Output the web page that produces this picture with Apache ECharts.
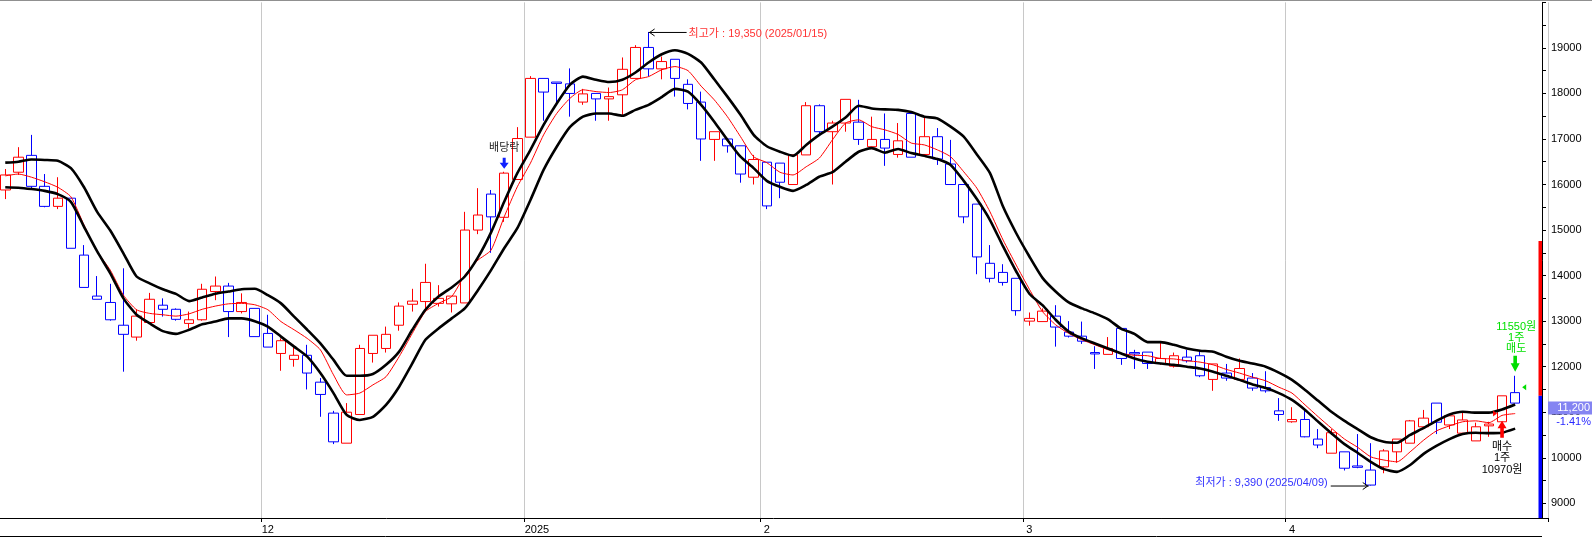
<!DOCTYPE html>
<html>
<head>
<meta charset="utf-8">
<script src="https://cdn.jsdelivr.net/npm/echarts@6.0.0/dist/echarts.min.js"></script>
<style>
html,body{margin:0;padding:0;background:#fff;}
#main{width:1592px;height:537px;}
</style>
</head>
<body>
<div id="main"></div>
<script>
// ---- data ----
const dates = [
'2024-11-04','2024-11-05','2024-11-06','2024-11-07','2024-11-08','2024-11-11','2024-11-12','2024-11-13','2024-11-14','2024-11-15',
'2024-11-18','2024-11-19','2024-11-20','2024-11-21','2024-11-22','2024-11-25','2024-11-26','2024-11-27','2024-11-28','2024-11-29',
'2024-12-02','2024-12-03','2024-12-04','2024-12-05','2024-12-06','2024-12-09','2024-12-10','2024-12-11','2024-12-12','2024-12-13',
'2024-12-16','2024-12-17','2024-12-18','2024-12-19','2024-12-20','2024-12-23','2024-12-24','2024-12-26','2024-12-27','2024-12-30',
'2025-01-02','2025-01-03','2025-01-06','2025-01-07','2025-01-08','2025-01-09','2025-01-10','2025-01-13','2025-01-14','2025-01-15',
'2025-01-16','2025-01-17','2025-01-20','2025-01-21','2025-01-22','2025-01-23','2025-01-24','2025-01-31',
'2025-02-03','2025-02-04','2025-02-05','2025-02-06','2025-02-07','2025-02-10','2025-02-11','2025-02-12','2025-02-13','2025-02-14',
'2025-02-17','2025-02-18','2025-02-19','2025-02-20','2025-02-21','2025-02-24','2025-02-25','2025-02-26','2025-02-27','2025-02-28',
'2025-03-04','2025-03-05','2025-03-06','2025-03-07','2025-03-10','2025-03-11','2025-03-12','2025-03-13','2025-03-14','2025-03-17',
'2025-03-18','2025-03-19','2025-03-20','2025-03-21','2025-03-24','2025-03-25','2025-03-26','2025-03-27','2025-03-28','2025-03-31',
'2025-04-01','2025-04-02','2025-04-03','2025-04-04','2025-04-07','2025-04-08','2025-04-09','2025-04-10','2025-04-11','2025-04-14',
'2025-04-15','2025-04-16','2025-04-17','2025-04-18','2025-04-21','2025-04-22','2025-04-23','2025-04-24'
];
const emptySlots = ['2025-04-25','2025-04-28'];

const openP = [
15880,16270,16640,15960,15520,15700,14450,13550,13410,12910,
12650,12970,13350,13260,12950,13030,13650,13770,13210,13280,
12730,12290,12160,12250,11660,10980,10320,10950,12290,12400,
12910,13370,13430,13390,13380,13400,15000,15790,15280,16110,
17040,18330,18250,18210,17810,18000,17880,17970,18330,19010,
18540,18750,18200,17810,16990,17000,16850,16160,16490,16470,
16000,16650,17730,17160,17350,17370,16830,16990,16660,17560,
16660,17050,16450,16000,15570,14270,14070,13940,13000,12990,
13110,12760,12670,12310,12270,12840,12310,12320,12070,12010,
12210,12240,11720,11860,11720,11750,11540,11030,10790,10840,
10410,10100,10130,9820,9730,9800,10130,10320,10680,11200,
10720,10540,10370,10700,10790,11430
];
const closeP = [
16210,16600,15960,15520,15700,14600,13740,13480,13030,12710,
13110,13480,13260,13040,13030,13700,13770,13210,13410,12660,
12430,12570,12250,11860,11390,10350,11000,12400,12690,12710,
13330,13440,13850,13500,13550,15000,15330,15290,16250,17010,
18330,18030,18220,18000,17990,17880,17930,18530,19010,18540,
18700,18330,17780,17000,17160,16850,16230,16550,15530,16050,
16650,17730,17160,17350,17870,16990,16990,16800,16960,16600,
17050,16560,16000,15290,14410,13940,13850,13230,13060,13220,
12870,12670,12560,12280,12400,12180,12280,12070,12180,12240,
12130,11800,12060,11750,11960,11530,11470,10950,10840,10460,
10280,10550,9770,9790,9400,10150,10410,10810,10870,10780,
10920,10830,10680,10740,11360,11200
];
const lowP = [
15680,16210,15900,15500,15460,14600,13740,13480,13010,11890,
12570,12970,13100,13010,12840,13010,13460,12650,13170,12660,
12430,11910,12000,11500,10900,10300,10320,10950,12090,12310,
12790,13210,13210,13320,13190,13400,14910,14500,15180,16110,
17040,17400,17770,17490,17750,17400,17400,17510,18330,18370,
18310,17930,17650,16520,16520,16700,16040,16000,15460,15700,
16000,16650,17090,16000,17160,16870,16830,16410,16590,16600,
16660,16430,16000,15150,14030,13850,13780,13120,12900,12990,
12440,12640,12500,11950,12270,12040,11950,11950,12040,11980,
12090,11770,11470,11690,11720,11470,11430,10810,10770,10450,
10210,10100,9720,9770,9390,9660,9890,10320,10630,10520,
10630,10540,10370,10460,10790,11200
];
const highP = [
16340,16820,17090,16230,16160,15700,14670,13990,13820,14160,
13260,13620,13500,13280,13210,13820,13980,13840,13610,13280,
13140,12620,12480,12480,11750,11030,11200,12480,12690,12880,
13410,13710,14260,13790,13550,15400,15920,15880,16280,17260,
18380,18330,18250,18550,18100,18000,18130,18790,19060,19350,
18810,18750,18310,18040,17160,17000,16850,16650,16490,16470,
16650,17810,17760,17400,17870,17860,17490,17560,17350,17560,
17460,17240,16980,16000,15570,14670,14250,13940,13190,13280,
13350,13000,12990,12450,12650,12840,12370,12320,12550,12310,
12370,12350,12060,12060,12180,11860,11900,11310,11110,11060,
10630,10630,10130,10520,10320,10190,10410,10830,11050,11200,
10960,10990,10770,10790,11360,11800
];
const upperBand = [
16480,16500,16550,16540,16520,16360,15940,15400,14990,14490,
13980,13830,13700,13600,13440,13520,13600,13650,13700,13710,
13570,13390,13100,12810,12510,12150,11800,11800,11840,12040,
12330,12810,13250,13540,13740,13980,14400,14950,15620,16250,
16760,17310,17780,18190,18370,18300,18250,18300,18460,18680,
18860,18950,18870,18680,18310,17930,17530,17090,16840,16720,
16630,16870,17090,17270,17470,17730,17670,17650,17640,17590,
17490,17450,17270,17050,16660,16250,15510,14930,14420,13950,
13650,13410,13280,13170,13040,12830,12720,12540,12540,12480,
12400,12350,12330,12220,12130,12070,12000,11870,11710,11490,
11250,11010,10810,10630,10450,10350,10330,10500,10650,10810,
10950,11010,10990,10990,11060,11170
];
const lowerBand = [
15940,15930,15900,15860,15790,15620,15070,14530,14050,13500,
13140,12950,12780,12720,12810,12930,12990,13060,13060,13000,
12880,12660,12440,12220,11860,11420,10940,10830,10900,11160,
11560,12070,12590,12840,13060,13280,13680,14120,14600,15040,
15660,16320,16830,17260,17490,17560,17560,17510,17640,17750,
17920,18100,18040,17750,17380,16980,16610,16360,16080,15950,
15860,15990,16170,16270,16500,16720,16800,16700,16780,16690,
16630,16560,16430,16080,15680,15220,14640,14090,13600,13350,
13030,12770,12620,12510,12400,12290,12180,12110,12070,12040,
12000,11960,11890,11800,11710,11610,11530,11420,11270,11050,
10790,10540,10300,10110,9910,9750,9690,9840,10080,10260,
10410,10520,10550,10540,10550,10640
];
const avgLine = [
16190,16230,16160,16060,15940,15730,15110,14530,14120,13570,
13250,13170,13140,13110,13160,13260,13330,13380,13390,13360,
13250,12990,12810,12620,12370,11820,11380,11420,11600,11780,
12220,12730,13210,13390,13540,14010,14340,14560,15290,15950,
16470,17090,17560,17890,18080,18040,18020,18080,18300,18370,
18520,18590,18500,18160,17860,17490,17050,16610,16480,16270,
16210,16390,16580,16980,17350,17420,17270,17200,17100,16910,
16870,16760,16610,16280,15920,15400,14780,14230,13700,13210,
12920,12730,12590,12480,12370,12290,12250,12240,12180,12170,
12130,12100,12040,11940,11860,11770,11690,11550,11420,11160,
10900,10650,10410,10230,10020,9950,9910,10130,10380,10590,
10700,10790,10810,10770,10930,10970
];
const yLabelValues = [9000,10000,11000,12000,13000,14000,15000,16000,17000,18000,19000];
const yTickValues = [9000,9500,10000,10500,11000,11500,12000,12500,13000,13500,14000,14500,15000,15500,16000,16500,17000,17500,18000,18500,19000,19500,20000];
const priceLimits = [14760, 11360]; // upper limit, previous close
const lastPrice = 11200;
const changeText = '-1.41%';
const highNote = {index: 49, price: 19350, text: '최고가 : 19,350 (2025/01/15)'};
const lowNote = {index: 104, price: 9390, text: '최저가 : 9,390 (2025/04/09)'};
const exDivNote = {index: 38, text: '배당락'};
const sellNote = {index: 115, price: 11550, lines: ['11550원', '1주', '매도']};
const buyNote = {index: 114, price: 10970, lines: ['매수', '1주', '10970원']};

// ---- build ----
const cats = dates.concat(emptySlots);
const monthStart = new Set();
for (let i = 1; i < dates.length; i++) {
  if (dates[i].slice(5, 7) !== dates[i - 1].slice(5, 7)) monthStart.add(i);
}
const isMonthStart = (idx) => monthStart.has(idx);
const FONT = '"Liberation Sans", "Noto Sans CJK KR", sans-serif';
const candleData = openP.map((o, i) => [o, closeP[i], lowP[i], highP[i]]);

const chart = echarts.init(document.getElementById('main'), null, {renderer: 'canvas'});
const option = {
  animation: false,
  backgroundColor: '#ffffff',
  grid: {left: -1.3, top: 2.36, width: 1549.3, height: 515.64, outerBoundsMode: 'none'},
  xAxis: {
    type: 'category',
    data: cats,
    boundaryGap: true,
    axisLine: {show: true, onZero: false, lineStyle: {color: '#000', width: 1}},
    axisTick: {show: true, interval: isMonthStart, length: 4, lineStyle: {color: '#000'}},
    splitLine: {show: true, interval: isMonthStart, lineStyle: {color: '#c8c8c8', width: 1}},
    axisLabel: {
      interval: isMonthStart,
      color: '#000', fontSize: 11, fontFamily: FONT, margin: 6,
      formatter: (v) => {
        const m = v.slice(5, 7);
        if (m === '01') return '{y|' + v.slice(0, 4) + '}';
        return String(parseInt(m, 10));
      },
      rich: {y: {padding: [0, 0, 0, 13], fontSize: 11, fontFamily: FONT, color: '#000'}}
    }
  },
  yAxis: {
    type: 'value',
    position: 'right',
    offset: -6,
    min: 8677,
    max: 20000,
    splitLine: {show: false},
    axisLine: {show: true, lineStyle: {color: '#000', width: 1}},
    axisTick: {show: true, customValues: yTickValues, length: 4, lineStyle: {color: '#000'}},
    axisLabel: {customValues: yLabelValues, color: '#000', fontSize: 11, fontFamily: FONT, margin: 9,
      formatter: (v) => String(v)}
  },
  series: [
    {
      type: 'candlestick',
      data: candleData,
      barWidth: 10,
      z: 2,
      silent: true,
      itemStyle: {color: '#ffffff', color0: '#ffffff', borderColor: '#ff0000', borderColor0: '#0000ff', borderWidth: 1}
    },
    {type: 'line', data: avgLine, symbol: 'none', z: 3, silent: true, smooth: 0.2,
      lineStyle: {color: '#ff0000', width: 1}},
    {type: 'line', data: upperBand, symbol: 'none', z: 4, silent: true, smooth: 0.2,
      lineStyle: {color: '#000000', width: 2.6}},
    {type: 'line', data: lowerBand, symbol: 'none', z: 4, silent: true, smooth: 0.2,
      lineStyle: {color: '#000000', width: 2.6}}
  ]
};
chart.setOption(option);

// ---- annotations (positioned through the chart's own scales) ----
const toPx = (i, v) => chart.convertToPixel({xAxisIndex: 0, yAxisIndex: 0}, [i, v]);
const py = (v) => chart.convertToPixel({yAxisIndex: 0}, v);
const g = [];
const txt = (x, y, text, fill, align) => g.push({type: 'text', x: x, y: y, z: 100, silent: true,
  style: {text: text, fill: fill, font: '11px ' + FONT, align: align || 'center', verticalAlign: 'middle'}});

// high
{
  const [x, y] = toPx(highNote.index, highNote.price);
  g.push({type: 'line', z: 100, shape: {x1: x, y1: y + 0.5, x2: x + 38, y2: y + 0.5}, style: {stroke: '#000', lineWidth: 1}});
  g.push({type: 'polyline', z: 100, shape: {points: [[x + 6, y - 3], [x + 1, y + 0.5], [x + 6, y + 4]]}, style: {stroke: '#000', lineWidth: 1, fill: null}});
  txt(x + 40, y + 2, highNote.text, '#ff3333', 'left');
}
// low
{
  const [x, y] = toPx(lowNote.index, lowNote.price);
  g.push({type: 'line', z: 100, shape: {x1: x - 40, y1: y + 0.5, x2: x - 2, y2: y + 0.5}, style: {stroke: '#000', lineWidth: 1}});
  g.push({type: 'polyline', z: 100, shape: {points: [[x - 8, y - 3], [x - 3, y + 0.5], [x - 8, y + 4]]}, style: {stroke: '#000', lineWidth: 1, fill: null}});
  txt(x - 43, y - 3, lowNote.text, '#3333ff', 'right');
}
// ex-dividend
{
  const [x, y] = toPx(exDivNote.index, highP[exDivNote.index]);
  const t = y - 3;
  g.push({type: 'polygon', z: 100, shape: {points: [[x - 1.5, t - 11], [x + 1.5, t - 11], [x + 1.5, t - 6], [x + 4.5, t - 6], [x, t], [x - 4.5, t - 6], [x - 1.5, t - 6]]}, style: {fill: '#1020ff'}});
  txt(x, t - 21, exDivNote.text, '#222222', 'center');
}
// sell
{
  const [x, y] = toPx(sellNote.index, highP[sellNote.index]);
  const t = y - 4;
  g.push({type: 'polygon', z: 100, shape: {points: [[x - 1.8, t - 16], [x + 1.8, t - 16], [x + 1.8, t - 8.5], [x + 4.5, t - 8.5], [x, t], [x - 4.5, t - 8.5], [x - 1.8, t - 8.5]]}, style: {fill: '#00dd00'}});
  txt(x + 1, t - 44.5, sellNote.lines[0], '#00e000');
  txt(x + 1, t - 33.5, sellNote.lines[1], '#00e000');
  txt(x + 1, t - 23, sellNote.lines[2], '#00e000');
  const [mx, my] = toPx(sellNote.index, sellNote.price);
  g.push({type: 'polygon', z: 100, shape: {points: [[mx + 7, my], [mx + 11, my - 3], [mx + 11, my + 3]]}, style: {fill: '#00dd00'}});
}
// buy
{
  const [x, y] = toPx(buyNote.index, lowP[buyNote.index]);
  const t = y - 1;
  g.push({type: 'polygon', z: 100, shape: {points: [[x, t], [x + 4.5, t + 7.5], [x + 1.8, t + 7.5], [x + 1.8, t + 17], [x - 1.8, t + 17], [x - 1.8, t + 7.5], [x - 4.5, t + 7.5]]}, style: {fill: '#ff0000'}});
  txt(x, t + 26, buyNote.lines[0], '#000');
  txt(x, t + 37.5, buyNote.lines[1], '#000');
  txt(x, t + 49, buyNote.lines[2], '#000');
  const [mx, my] = toPx(buyNote.index, buyNote.price);
  g.push({type: 'polygon', z: 100, shape: {points: [[mx - 5, my], [mx - 9, my - 3], [mx - 9, my + 3]]}, style: {fill: '#ff0000'}});
}
// price-limit bar on the axis
{
  const axisX = 1542;
  const yTop = py(priceLimits[0]);
  const yMid = py(priceLimits[1]);
  const yBot = py(8677);
  g.push({type: 'rect', z: 90, shape: {x: axisX - 3.5, y: yTop, width: 3.5, height: yMid - yTop}, style: {fill: '#ff0000'}});
  g.push({type: 'rect', z: 90, shape: {x: axisX - 3.5, y: yMid, width: 3.5, height: yBot - yMid}, style: {fill: '#0000ff'}});
  const yl = py(lastPrice);
  g.push({type: 'rect', z: 90, shape: {x: 1548, y: yl - 1.5, width: 50, height: 13}, style: {fill: '#8484f2'}});
  txt(1590, yl + 5, lastPrice.toLocaleString('en-US'), '#ffffff', 'right');
  txt(1591, yl + 19, changeText, '#2a2aff', 'right');
}
// frame lines
g.push({type: 'line', z: 90, shape: {x1: 0, y1: 536.5, x2: 1542, y2: 536.5}, style: {stroke: '#000', lineWidth: 1}});
g.push({type: 'line', z: 90, shape: {x1: 0, y1: 0.5, x2: 1592, y2: 0.5}, style: {stroke: '#909090', lineWidth: 1}});

chart.setOption({graphic: g});
</script>
</body>
</html>
